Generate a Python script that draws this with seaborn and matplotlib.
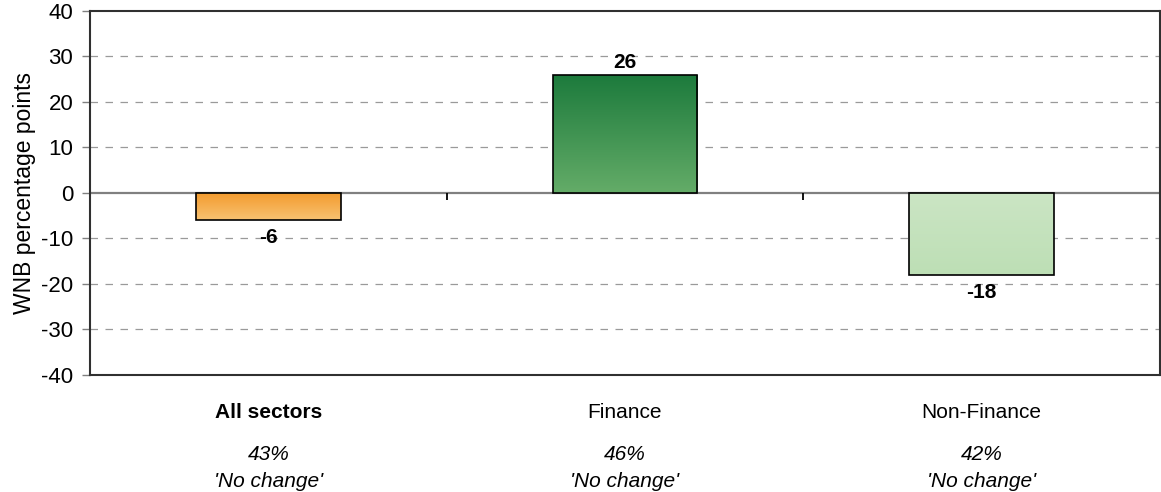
import numpy as np
import matplotlib
matplotlib.use("Agg")
import matplotlib.pyplot as plt
from matplotlib.colors import LinearSegmentedColormap
import matplotlib.transforms as mtransforms
import seaborn as sns

# Net balance by sector
categories = ["All sectors", "Finance", "Non-Finance"]
values = [-6, 26, -18]
no_change_pct = ["43%", "46%", "42%"]
no_change_text = "'No change'"
y_ticks = [-40, -30, -20, -10, 0, 10, 20, 30, 40]

# Top / bottom colours of each bar's vertical gradient
grad_top = ["#F39A2C", "#1C7A3C", "#CBE5C4"]
grad_bottom = ["#F8C272", "#64AC68", "#BDDFB5"]

FS = 15

sns.set_theme(style="white")
plt.rcParams["font.family"] = ["Liberation Sans", "DejaVu Sans"]
plt.rcParams["text.color"] = "black"
plt.rcParams["axes.labelcolor"] = "black"
plt.rcParams["ytick.labelcolor"] = "black"

fig = plt.figure(figsize=(11.61, 4.92), dpi=100)
ax = fig.add_axes([0.0775, 0.238, 0.9215, 0.740])

sns.barplot(x=categories, y=values, ax=ax, width=0.405,
            facecolor="none", edgecolor="black", linewidth=1.2,
            order=categories, zorder=3)

ax.set_xlim(-0.5, 2.5)
ax.set_ylim(-40, 40)

# Gradient fill clipped to each bar
for patch, c_top, c_bot in zip(ax.patches, grad_top, grad_bottom):
    x0, y0 = patch.get_x(), patch.get_y()
    w, h = patch.get_width(), patch.get_height()
    y_lo, y_hi = min(y0, y0 + h), max(y0, y0 + h)
    cmap = LinearSegmentedColormap.from_list("g", [c_bot, c_top])
    grad = np.linspace(0, 1, 256).reshape(-1, 1)
    im = ax.imshow(grad, cmap=cmap, aspect="auto", origin="lower",
                   extent=[x0, x0 + w, y_lo, y_hi], zorder=2,
                   interpolation="bilinear")
    im.set_clip_path(patch)
ax.set_xlim(-0.5, 2.5)
ax.set_ylim(-40, 40)

# Value labels outside the bar ends
for i, v in enumerate(values):
    off = 4.8 if v >= 0 else -16.5
    ax.annotate(f"{v}", xy=(i, v), xytext=(0, off), textcoords="offset points",
                ha="center", va="baseline", fontsize=FS, fontweight="bold",
                color="black", zorder=5)

# Grid and zero line
for t in y_ticks:
    if t == 0:
        ax.axhline(0, color="#808080", lw=1.6, zorder=1)
    elif abs(t) < 40:
        ax.axhline(t, color="#9a9a9a", lw=0.9, ls=(0, (6, 6)), zorder=1)

# Category separators on the zero line
ax.vlines([0.5, 1.5], -1.5, 0, color="black", lw=1.3, zorder=4)

ax.set_yticks(y_ticks)
ax.set_yticklabels([str(t) for t in y_ticks], fontsize=16)
ax.tick_params(axis="y", which="major", direction="out", length=6,
               width=1, color="#808080", labelcolor="black", left=True, pad=6)
ax.set_xticks([])
ax.set_xlabel("")
ax.set_ylabel("WNB percentage points", fontsize=16.5, labelpad=4,
              color="black")

for s in ax.spines.values():
    s.set_visible(True)
    s.set_color("#303030")
    s.set_linewidth(1.5)

# Category names and 'No change' shares below the plot
trans = mtransforms.blended_transform_factory(ax.transData, ax.transAxes)
for i, (cat, pct) in enumerate(zip(categories, no_change_pct)):
    ax.text(i, -0.118, cat, transform=trans, ha="center", va="baseline",
            fontsize=FS, fontweight="bold" if i == 0 else "normal")
    ax.text(i, -0.2335, pct, transform=trans, ha="center", va="baseline",
            fontsize=FS, fontstyle="italic")
    ax.text(i, -0.3077, no_change_text, transform=trans, ha="center",
            va="baseline", fontsize=FS, fontstyle="italic")

fig.savefig("out.png", dpi=100)
